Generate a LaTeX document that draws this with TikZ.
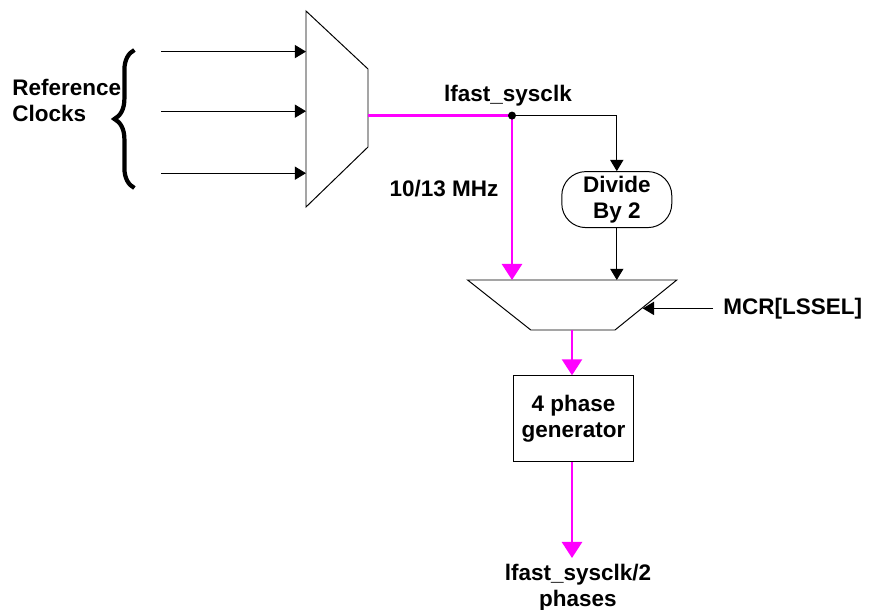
\documentclass[tikz,border=0pt]{standalone}
\usepackage{fontspec}
\setmainfont{Liberation Sans}
\usepackage{tikz}
\usetikzlibrary{arrows.meta,positioning,decorations.pathreplacing}
\definecolor{clk}{HTML}{FF00FF}

\begin{document}
\begin{tikzpicture}[font=\fontsize{16}{18.5}\selectfont\bfseries,
  blk/.style={draw,line width=0.7pt,minimum width=3cm,minimum height=2.15cm,align=center},
  divb/.style={draw,line width=0.7pt,rounded corners=0.6cm,minimum width=2.75cm,minimum height=1.4cm,align=center,inner sep=1pt},
  mux/.style={draw,line width=0.7pt},
  arr/.style={-{Triangle[length=2.8mm,width=3.3mm]},line width=0.7pt},
  wire/.style={draw=clk,line width=1.8pt},
  pk/.style={wire,-{Triangle[length=4mm,width=5mm]}}]
\useasboundingbox (0,0) rectangle (21.75,-15.25);
% clock select mux
\draw[mux] (7.65,-0.275) -- (9.2,-1.725) -- (9.2,-3.675) -- (7.65,-5.175) -- cycle;
\coordinate (in1) at (7.65,-1.29);
\coordinate (in2) at (7.65,-2.78);
\coordinate (in3) at (7.65,-4.33);
\coordinate (s1) at (4.03,-1.29);
\coordinate (s2) at (4.03,-2.78);
\coordinate (s3) at (4.03,-4.33);
\coordinate (mout) at (9.2,-2.89);
\draw[arr] (s1) -- (in1);
\draw[arr] (s2) -- (in2);
\draw[arr] (s3) -- (in3);
\draw[decorate,decoration={brace,amplitude=0.5cm},line width=3pt] (3.36,-4.7) -- (3.36,-1.25);
\node[align=left,anchor=west,inner sep=0pt] (refclk) at (0.3,-2.52) {Reference\\Clocks};
% divider path
\coordinate (dot) at (12.8,-2.89);
\node (sysclk) at (12.7,-2.4) {lfast\_sysclk};
\node (mhz) at (11.1,-4.72) {10/13 MHz};
\node[divb] (div) at (15.42,-4.99) {Divide\\By 2};
% speed select mux
\draw[mux] (11.69,-7.0) -- (16.92,-7.0) -- (15.375,-8.25) -- (13.27,-8.25) -- cycle;
\coordinate (ina) at (12.8,-7.0);
\coordinate (inb) at (15.42,-7.0);
\coordinate (sel) at (16.07,-7.71);
\coordinate (selsrc) at (17.83,-7.71);
\coordinate (m2out) at (14.3,-8.25);
\node[anchor=west,inner sep=0pt] (mcr) at (18.08,-7.71) {MCR[LSSEL]};
\node[blk] (gen) at (14.34,-10.47) {4 phase\\generator};
\coordinate (outend) at (14.3,-13.95);
\node[align=center] (phases) at (14.45,-14.69) {lfast\_sysclk/2\\phases};
\draw[wire] (mout) -- (dot);
\draw[pk] (dot) -- (ina);
\draw[arr] (dot) -| (div.north);
\draw[arr] (div) -- (inb);
\draw[arr] (selsrc) -- (sel);
\draw[pk] (m2out) -- (gen.north -| m2out);
\draw[pk] (gen.south -| m2out) -- (outend);
\fill (dot) circle (0.1);
\end{tikzpicture}
\end{document}
